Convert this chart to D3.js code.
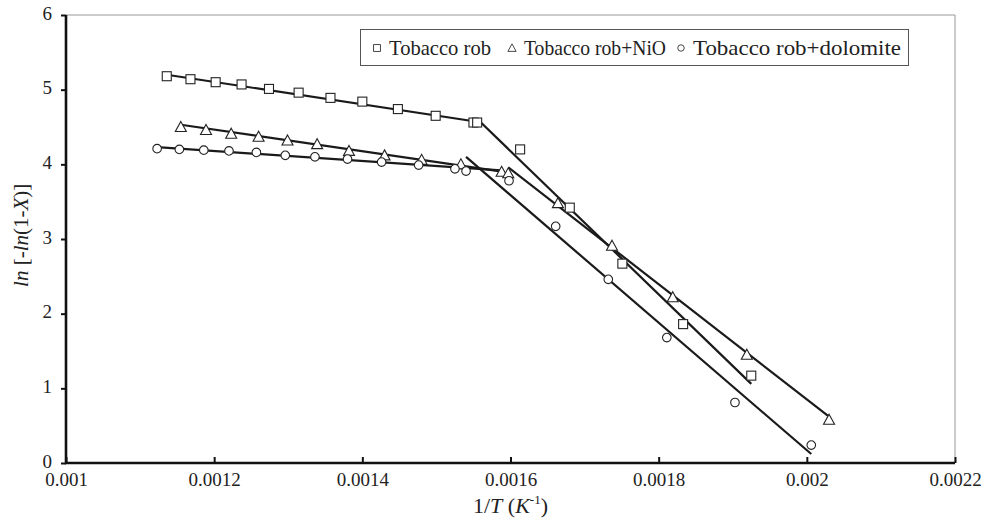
<!DOCTYPE html>
<html>
<head>
<meta charset="utf-8">
<script src="https://cdn.jsdelivr.net/npm/d3@7"></script>
<style>
  body { margin: 0; background: #fff; }
  svg { font-family: "Liberation Serif", "DejaVu Serif", serif; }
  .axis text { font-family: "Liberation Serif", serif; font-size: 19px; fill: #222; }
  .axis line { stroke: #111; stroke-width: 2; }
  .axis path { display: none; }
</style>
</head>
<body>
<svg id="chart" width="985" height="519"></svg>
<script>
// values: x = 1/T (K^-1), y = ln[-ln(1-X)]
var robX = [0.001136, 0.001168, 0.001202, 0.001237, 0.001274, 0.001314, 0.001357, 0.001400,
            0.001448, 0.001499, 0.001550, 0.001555, 0.001613, 0.001680, 0.001751, 0.001833, 0.001925];
var robY = [5.18, 5.14, 5.10, 5.07, 5.01, 4.96, 4.89, 4.84, 4.74, 4.65, 4.56, 4.56, 4.20, 3.42, 2.67, 1.86, 1.17];

var nioX = [0.001155, 0.001189, 0.001223, 0.001260, 0.001299, 0.001339, 0.001382, 0.001430,
            0.001480, 0.001533, 0.001588, 0.001597, 0.001664, 0.001737, 0.001819, 0.001919, 0.002030];
var nioY = [4.50, 4.46, 4.41, 4.37, 4.32, 4.27, 4.18, 4.12, 4.06, 4.00, 3.90, 3.88, 3.48, 2.91, 2.22, 1.45, 0.58];

var dolX = [0.001123, 0.001153, 0.001186, 0.001220, 0.001257, 0.001296, 0.001336, 0.001380,
            0.001426, 0.001476, 0.001525, 0.001540, 0.001598, 0.001661, 0.001732, 0.001811, 0.001903, 0.002006];
var dolY = [4.21, 4.20, 4.19, 4.18, 4.16, 4.12, 4.10, 4.07, 4.03, 3.99, 3.94, 3.91, 3.78, 3.17, 2.46, 1.68, 0.81, 0.24];

// fitted straight lines (two regimes per sample): [x1, x2] and [y1, y2]
var fitX = [[0.001136, 0.001555], [0.001558, 0.001925],
            [0.001155, 0.001591], [0.001597, 0.002030],
            [0.001123, 0.001587], [0.001540, 0.002006]];
var fitY = [[5.20, 4.57], [4.58, 1.06],
            [4.53, 3.90], [3.96, 0.62],
            [4.23, 3.92], [4.10, 0.12]];

var seriesNames = ['Tobacco rob', 'Tobacco rob+NiO', 'Tobacco rob+dolomite'];
var seriesShapes = ['square', 'triangle', 'circle'];
var xTicks = [0.001, 0.0012, 0.0014, 0.0016, 0.0018, 0.002, 0.0022];
var yTicks = [0, 1, 2, 3, 4, 5, 6];

var svg = d3.select('#chart'),
    padL = 66, padR = 955, padT = 15, padB = 463;

var x = d3.scaleLinear().domain([0.001, 0.0022]).range([padL, padR]),
    y = d3.scaleLinear().domain([0, 6]).range([padB, padT]);

// thin grey frame on top / right
svg.append('path')
    .attr('d', 'M' + padL + ',' + padT + 'H' + padR + 'V' + padB)
    .attr('fill', 'none')
    .attr('stroke', '#999')
    .attr('stroke-width', 1);

svg.append('g')
    .attr('class', 'axis')
    .attr('transform', 'translate(0,' + padB + ')')
    .call(d3.axisBottom(x).tickValues(xTicks).tickSizeInner(-6).tickSizeOuter(0).tickPadding(10)
          .tickFormat(function (d) { return String(+d.toFixed(4)); }));

svg.append('g')
    .attr('class', 'axis')
    .attr('transform', 'translate(' + padL + ',0)')
    .call(d3.axisLeft(y).tickValues(yTicks).tickSize(5).tickPadding(9).tickFormat(d3.format('d')))
    .selectAll('text')
    .attr('dy', '0.22em');

// thick axis lines
svg.append('path')
    .attr('d', 'M' + padL + ',' + padT + 'V' + padB + 'H' + padR)
    .attr('fill', 'none')
    .attr('stroke', '#111')
    .attr('stroke-width', 2.6);

// fit lines
fitX.forEach(function (xs, i) {
    svg.append('line')
        .attr('x1', x(xs[0])).attr('y1', y(fitY[i][0]))
        .attr('x2', x(xs[1])).attr('y2', y(fitY[i][1]))
        .attr('stroke', '#1a1a1a')
        .attr('stroke-width', 2.2);
});

var marker = function (g, shape) {
    if (shape === 'square') {
        g.append('rect').attr('x', -4.5).attr('y', -4.5).attr('width', 9).attr('height', 9);
    } else if (shape === 'triangle') {
        g.append('path').attr('d', 'M0,-5.5L5.5,4.5H-5.5Z');
    } else {
        g.append('circle').attr('r', 4.3);
    }
    g.selectAll('*').attr('fill', '#fff').attr('stroke', '#222').attr('stroke-width', 1.1);
};

[[robX, robY], [nioX, nioY], [dolX, dolY]].forEach(function (s, i) {
    s[0].forEach(function (xv, j) {
        var g = svg.append('g')
            .attr('transform', 'translate(' + x(xv) + ',' + y(s[1][j]) + ')');
        marker(g, seriesShapes[i]);
    });
});

// legend
var legend = svg.append('g');
legend.append('rect')
    .attr('x', 360.5).attr('y', 29.5).attr('width', 548).attr('height', 36)
    .attr('fill', '#fff').attr('stroke', '#555').attr('stroke-width', 1);
var legX = [377, 512, 681],
    legW = [102, 142, 208];
seriesNames.forEach(function (name, i) {
    var g = legend.append('g').attr('transform', 'translate(' + legX[i] + ',48)');
    var m = g.append('g').attr('transform', 'scale(0.75)');
    marker(m, seriesShapes[i]);
    g.append('text')
        .attr('x', 12).attr('y', 7)
        .attr('font-size', 21)
        .attr('fill', '#222')
        .attr('textLength', legW[i])
        .attr('lengthAdjust', 'spacingAndGlyphs')
        .text(name);
});

// axis titles
var xt = svg.append('text')
    .attr('x', x(0.0016)).attr('y', 513)
    .attr('text-anchor', 'middle')
    .attr('font-size', 22)
    .attr('fill', '#222');
xt.append('tspan').text('1/');
xt.append('tspan').attr('font-style', 'italic').text('T');
xt.append('tspan').text(' (');
xt.append('tspan').attr('font-style', 'italic').text('K');
xt.append('tspan').attr('font-size', 13).attr('dy', -9).text('-1');
xt.append('tspan').attr('dy', 9).text(')');

var yt = svg.append('text')
    .attr('transform', 'translate(28,' + y(3.05) + ') rotate(-90)')
    .attr('text-anchor', 'middle')
    .attr('font-size', 21)
    .attr('fill', '#222');
yt.append('tspan').attr('font-style', 'italic').text('ln');
yt.append('tspan').text(' [-');
yt.append('tspan').attr('font-style', 'italic').text('ln');
yt.append('tspan').text('(1-');
yt.append('tspan').attr('font-style', 'italic').text('X');
yt.append('tspan').text(')]');
</script>
</body>
</html>
